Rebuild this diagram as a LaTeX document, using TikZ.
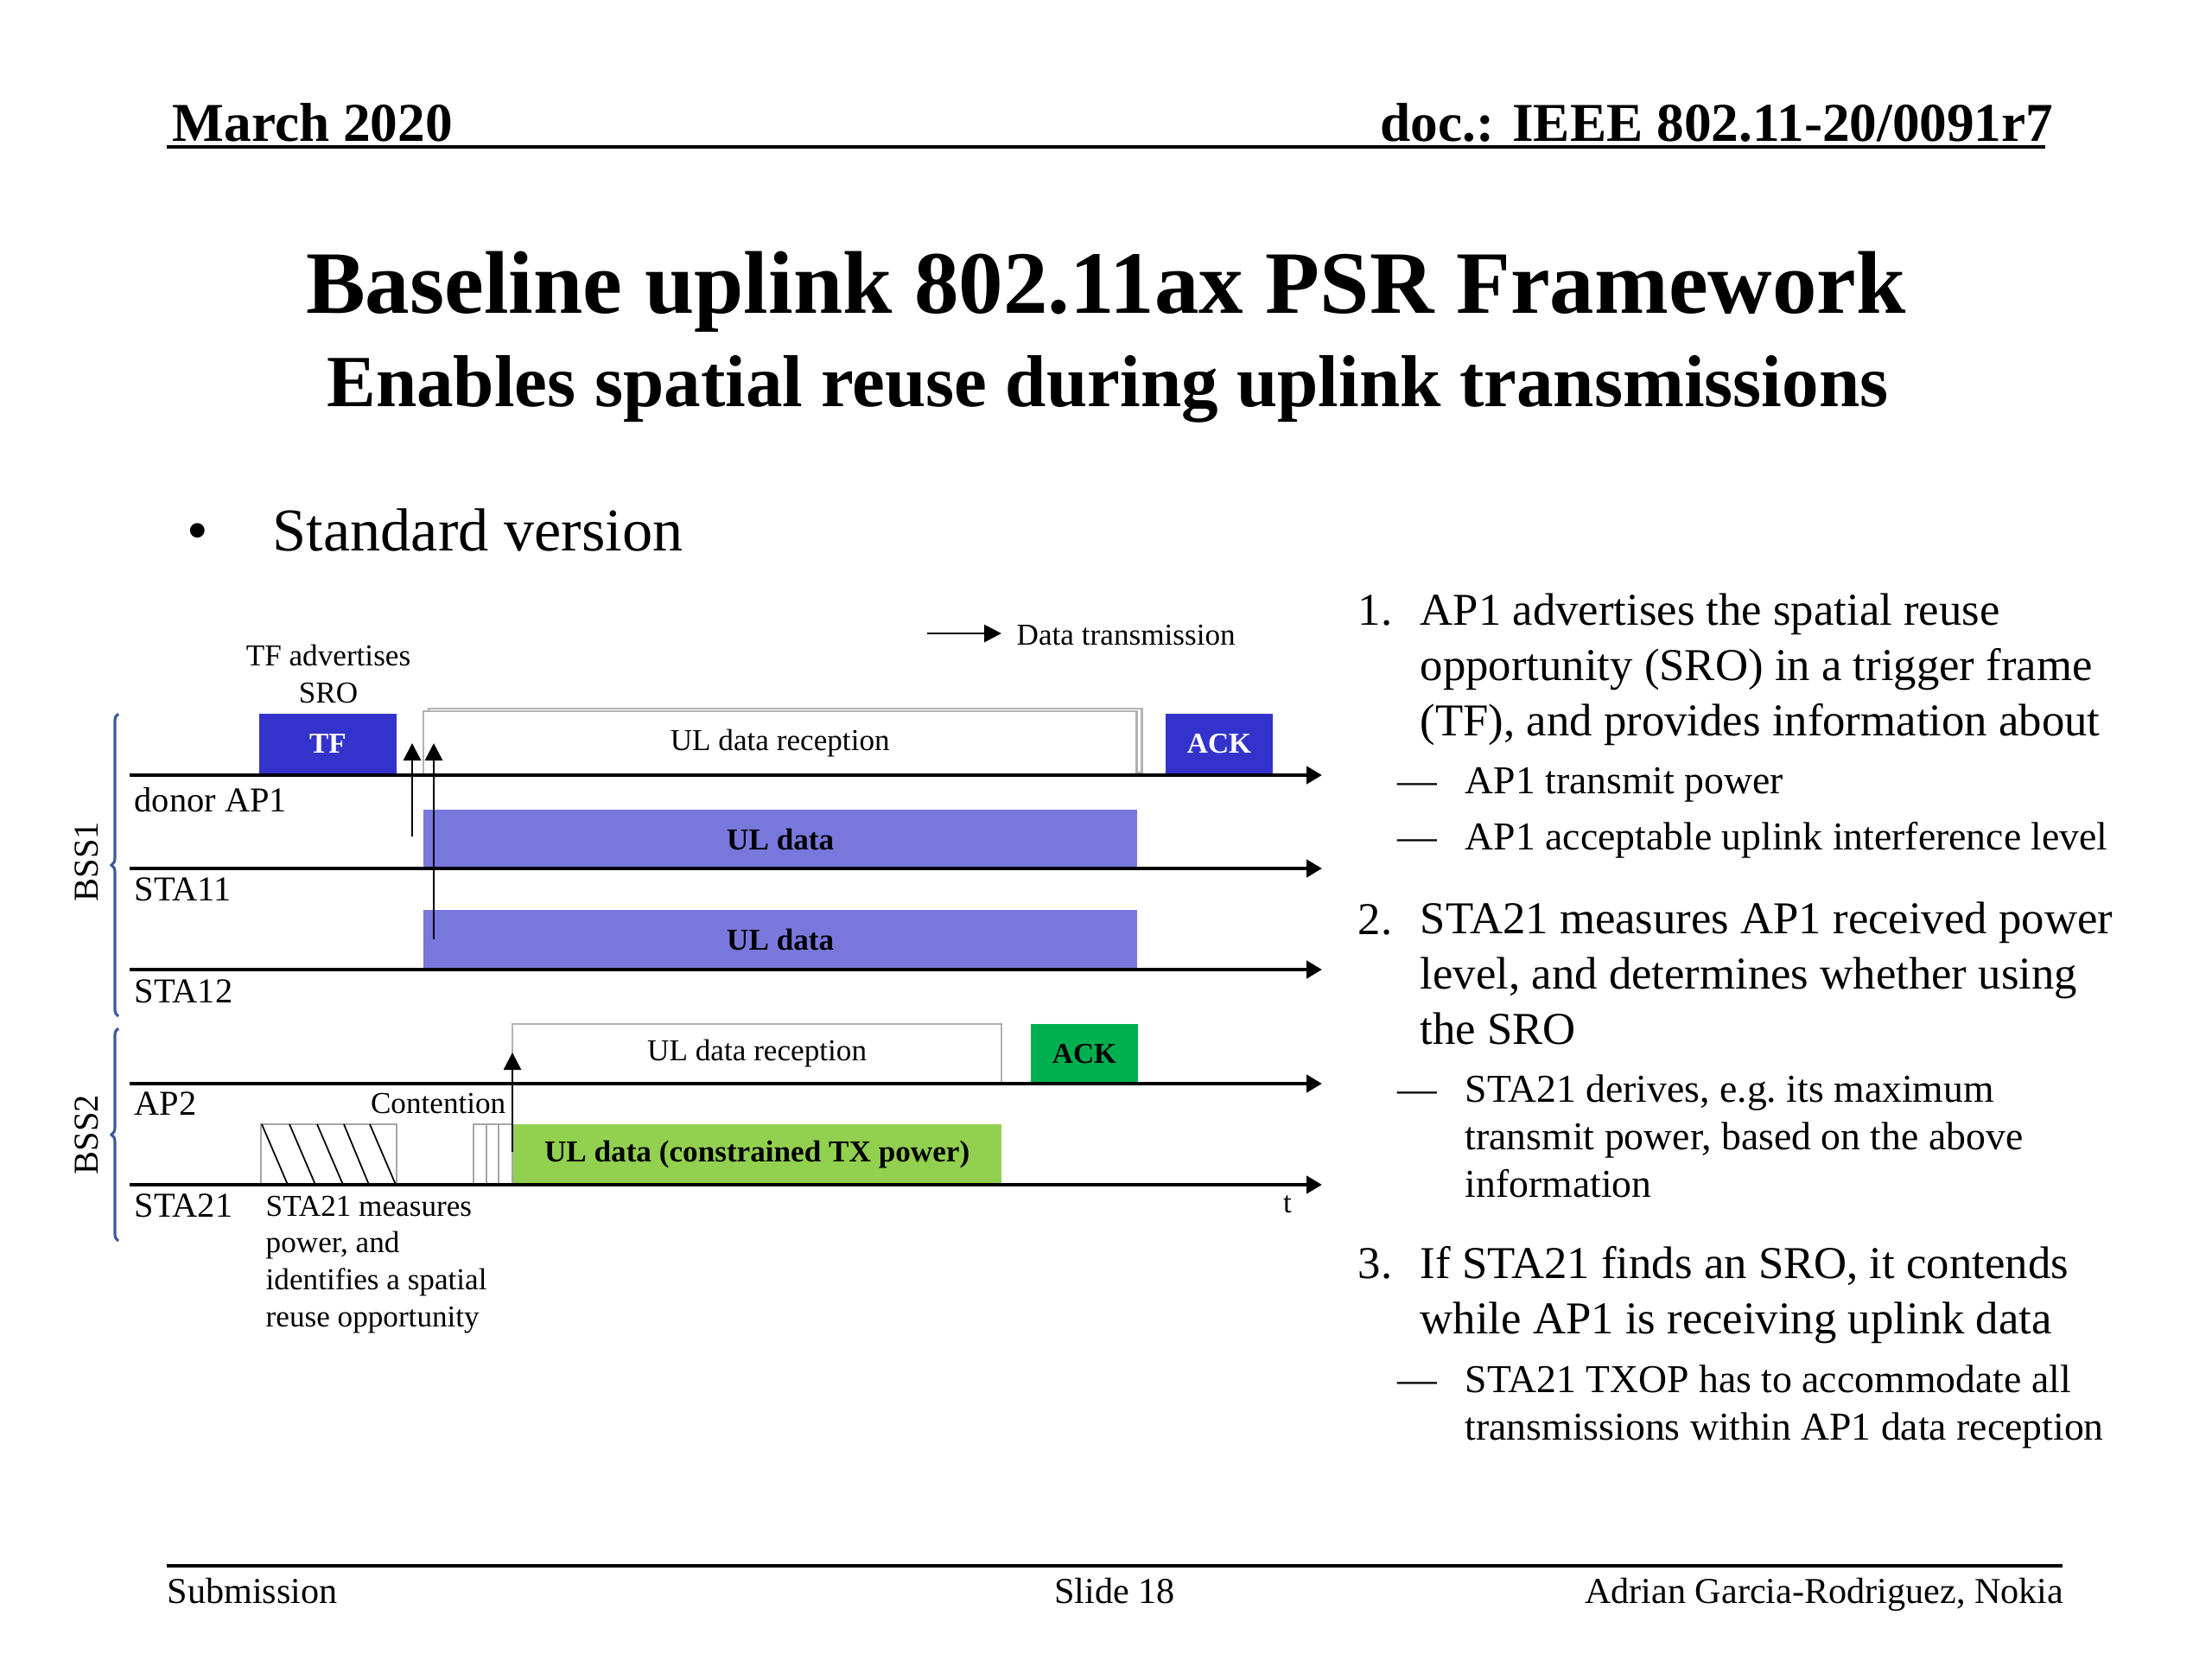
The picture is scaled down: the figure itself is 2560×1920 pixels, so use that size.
\documentclass[tikz,border=0pt]{standalone}
\usepackage{fontspec}
\setmainfont{Liberation Serif}
\usepackage{xcolor}
\usetikzlibrary{arrows.meta,positioning,calc,decorations.pathreplacing,shadows}
\definecolor{tfblue}{RGB}{51,51,204}
\definecolor{uldata}{RGB}{120,120,220}
\definecolor{ackgreen}{RGB}{0,176,80}
\definecolor{ulgreen}{RGB}{146,208,80}
\definecolor{bracecol}{RGB}{60,90,160}
\newcommand{\fsz}[2]{\fontsize{#1}{#2}\selectfont}

\begin{document}
\begin{tikzpicture}[x=0.01cm, y=-0.01cm, axis/.style={line width=1.4pt, -{Triangle[length=0.18cm,width=0.2cm]}}, tx/.style={line width=0.8pt, -{Triangle[length=0.2cm,width=0.2cm]}}, lane/.style={anchor=base west, inner sep=0pt, font=\fsz{11.5}{14}}, note/.style={inner sep=0pt, font=\fsz{10}{12.1}}, frame/.style={anchor=south west, inner sep=0pt, outer sep=0pt, font=\bfseries\fsz{9.5}{11}}, tfbox/.style={frame, fill=tfblue, text=white}, ulbox/.style={frame, fill=uldata, font=\bfseries\fsz{10}{12}}, rxbox/.style={frame, fill=white, draw=gray!60, line width=0.6pt, font=\fsz{10}{12}}, slot/.style={draw=gray!70, line width=0.5pt}, bss/.style={draw=bracecol, line width=0.9pt, decorate, decoration={brace, amplitude=0.08cm}}, item/.style={anchor=base west, inner sep=0pt, align=left, font=\fsz{15}{18.2}}, subitem/.style={anchor=base west, inner sep=0pt, align=left, font=\fsz{13}{15.6}}]
\useasboundingbox (0,0) rectangle (2560,1920);
% header and title
\node[anchor=base west, inner sep=0pt, font=\bfseries\fsz{18}{22}] (date) at (199,163) {March 2020};
\node[anchor=base east, inner sep=0pt, font=\bfseries\fsz{18}{22}] (doc) at (2377,163) {doc.: IEEE 802.11-20/0091r7};
\draw[line width=1pt] (193,170) -- (2367,170);
\node[anchor=base, inner sep=0pt, font=\bfseries\fsz{29.3}{35}] (title) at (1280,362) {Baseline uplink 802.11ax PSR Framework};
\node[anchor=base, inner sep=0pt, font=\bfseries\fsz{24.2}{29}] (subtitle) at (1282,470) {Enables spatial reuse during uplink transmissions};
\node[anchor=base, inner sep=0pt, font=\fsz{20}{24}] (dot) at (229,637) {\textbullet};
\node[anchor=base west, inner sep=0pt, font=\fsz{20}{24}] (std) at (315,637) {Standard version};
% timeline axes
\coordinate (ap1s) at (150,897); \coordinate (ap1e) at (1530,897);
\coordinate (s11s) at (150,1005); \coordinate (s11e) at (1530,1005);
\coordinate (s12s) at (150,1122); \coordinate (s12e) at (1530,1122);
\coordinate (ap2s) at (150,1254); \coordinate (ap2e) at (1530,1254);
\coordinate (s21s) at (150,1371); \coordinate (s21e) at (1530,1371);
% frames of BSS1
\node[tfbox, minimum width=1.59cm, minimum height=0.69cm] (tf) at (300,895) {TF};
\node[rxbox, minimum width=8.25cm, minimum height=0.74cm, general shadow={shadow xshift=0.06cm, shadow yshift=0.03cm, fill=white, draw=gray!60, line width=0.6pt}] (rx1) at (490,897) {UL data reception};
\node[tfbox, minimum width=1.24cm, minimum height=0.69cm] (ack1) at (1349,895) {ACK};
\node[ulbox, minimum width=8.26cm, minimum height=0.68cm] (ul11) at (490,1005) {UL data};
\node[ulbox, minimum width=8.26cm, minimum height=0.69cm] (ul12) at (490,1122) {UL data};
% frames of BSS2
\node[rxbox, minimum width=5.66cm, minimum height=0.69cm] (rx2) at (593,1254) {UL data reception};
\node[frame, fill=ackgreen, minimum width=1.24cm, minimum height=0.69cm] (ack2) at (1193,1254) {ACK};
\node[ulbox, fill=ulgreen, minimum width=5.66cm, minimum height=0.70cm] (ul21) at (593,1371) {UL data (constrained TX power)};
\node[frame, slot, minimum width=1.57cm, minimum height=0.70cm] (meas) at (302,1371) {};
\node[frame, slot, minimum width=0.45cm, minimum height=0.70cm] (cont) at (548,1371) {};
\draw[black, line width=0.5pt] (303,1301) -- (333,1371) (335,1301) -- (365,1371) (367,1301) -- (397,1371) (398,1301) -- (427,1371) (428,1301) -- (458,1371);
\draw[gray!70, line width=0.5pt] (563,1301) -- (563,1371) (577,1301) -- (577,1371);
\draw[axis](ap1s)--(ap1e); \draw[axis](s11s)--(s11e); \draw[axis](s12s)--(s12e); \draw[axis](ap2s)--(ap2e); \draw[axis](s21s)--(s21e);
% data transmissions
\coordinate (tx1a) at (477,968); \coordinate (tx1b) at (477,860);
\coordinate (tx2a) at (502,1087); \coordinate (tx2b) at (502,860);
\coordinate (tx3a) at (593,1333); \coordinate (tx3b) at (593,1218);
\draw[tx](tx1a)--(tx1b); \draw[tx](tx2a)--(tx2b); \draw[tx](tx3a)--(tx3b);
\coordinate (lega) at (1073,733); \coordinate (legb) at (1159,733);
\draw[tx](lega)--(legb);
\node[note, anchor=base west] (leg) at (1176,746) {Data transmission};
% labels (multi-line nodes sit on their last baseline)
\node[note, anchor=base, align=center] (tfnote) at (380,813) {TF advertises\\SRO};
\node[lane] (lap1) at (155,939) {donor AP1};
\node[lane] (lsta11) at (155,1042) {STA11};
\node[lane] (lsta12) at (155,1160) {STA12};
\node[lane] (lap2) at (155,1290) {AP2};
\node[lane] (lsta21) at (155,1408) {STA21};
\node[note, anchor=base east] (contl) at (586,1288) {Contention};
\node[note, anchor=base west, align=left] (measl) at (307,1535) {STA21 measures\\power, and\\identifies a spatial\\reuse opportunity};
\node[note, anchor=base] (tl) at (1490,1403) {t};
\draw[bss] (137,1176) -- (137,826);
\draw[bss] (137,1436) -- (137,1190);
\node[rotate=90, font=\fsz{11.5}{14}] (bss1) at (100,997) {BSS1};
\node[rotate=90, font=\fsz{11.5}{14}] (bss2) at (100,1313) {BSS2};
% steps on the right
\node[item] (n1) at (1571,723) {1.};
\node[item] (i1) at (1643,851) {AP1 advertises the spatial reuse\\opportunity (SRO) in a trigger frame\\(TF), and provides information about};
\node[subitem] (d11) at (1617,918) {—};
\node[subitem] (s11) at (1695,918) {AP1 transmit power};
\node[subitem] (d12) at (1617,983) {—};
\node[subitem] (s12) at (1695,983) {AP1 acceptable uplink interference level};
\node[item] (n2) at (1571,1081) {2.};
\node[item] (i2) at (1643,1208) {STA21 measures AP1 received power\\level, and determines whether using\\the SRO};
\node[subitem] (d21) at (1617,1275) {—};
\node[subitem] (s21) at (1695,1385) {STA21 derives, e.g.\ its maximum\\transmit power, based on the above\\information};
\node[item] (n3) at (1571,1479) {3.};
\node[item] (i3) at (1643,1543) {If STA21 finds an SRO, it contends\\while AP1 is receiving uplink data};
\node[subitem] (d31) at (1617,1611) {—};
\node[subitem] (s31) at (1695,1666) {STA21 TXOP has to accommodate all\\transmissions within AP1 data reception};
% footer
\draw[line width=1pt] (193,1812) -- (2387,1812);
\node[anchor=base west, inner sep=0pt, font=\fsz{12}{14}] (sub) at (193,1855) {Submission};
\node[anchor=base, inner sep=0pt, font=\fsz{12}{14}] (slide) at (1290,1855) {Slide 18};
\node[anchor=base east, inner sep=0pt, font=\fsz{12}{14}] (auth) at (2389,1855) {Adrian Garcia-Rodriguez, Nokia};
\end{tikzpicture}
\end{document}
